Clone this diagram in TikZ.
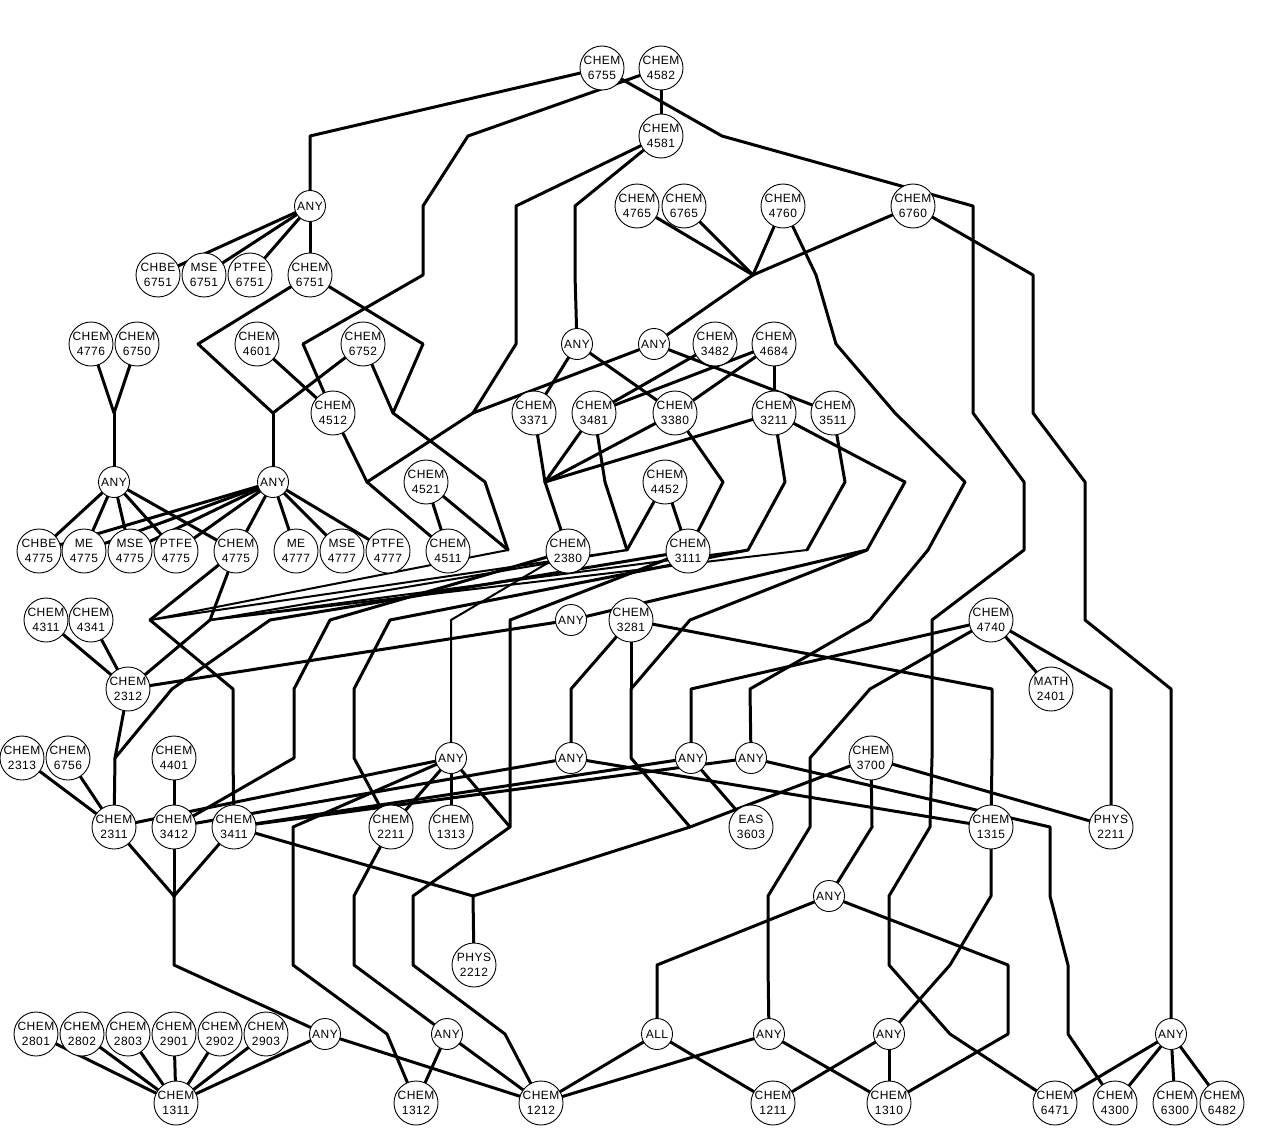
\documentclass[tikz,border=0pt]{standalone}
\usepackage{fontspec}
\newfontfamily\lab[LetterSpace=4]{Liberation Sans}
\usetikzlibrary{backgrounds}
\pgfdeclarelayer{edges}
\pgfsetlayers{background,edges,main}
\begin{document}
\begin{tikzpicture}[x=1pt,y=-1pt,
  cn/.style={circle, draw, line width=0.9pt, fill=white, minimum size=44pt, inner sep=-6pt, align=center, font=\lab\fontsize{12}{14.5}\selectfont},
  an/.style={circle, draw, line width=0.9pt, fill=white, minimum size=31pt, inner sep=-6pt, font=\lab\fontsize{12}{14.5}\selectfont},
  ed/.style={line width=3pt, line join=round, line cap=round},
  th/.style={line width=2pt, line join=round, line cap=round}]
\begin{pgfonlayer}{background}
\fill[white] (0,0) rectangle (1263,1145);
\end{pgfonlayer}
\useasboundingbox (0,0) rectangle (1263,1145);
% ---- nodes ----
\node[cn] (c6755) at (602,68) {CHEM\\6755};
\node[cn] (c4582) at (661,68) {CHEM\\4582};
\node[cn] (c4581) at (661,136) {CHEM\\4581};
\node[an] (a1) at (310,206) {ANY};
\node[cn] (c4765) at (637,206) {CHEM\\4765};
\node[cn] (c6765) at (684,206) {CHEM\\6765};
\node[cn] (c4760) at (783,206) {CHEM\\4760};
\node[cn] (c6760) at (913,206) {CHEM\\6760};
\node[cn] (chbe6751) at (158,275) {CHBE\\6751};
\node[cn] (mse6751) at (204,275) {MSE\\6751};
\node[cn] (ptfe6751) at (250,275) {PTFE\\6751};
\node[cn] (c6751) at (310,275) {CHEM\\6751};
\node[cn] (c4776) at (91,344) {CHEM\\4776};
\node[cn] (c6750) at (137,344) {CHEM\\6750};
\node[cn] (c4601) at (257,344) {CHEM\\4601};
\node[cn] (c6752) at (363,344) {CHEM\\6752};
\node[an] (a2) at (577,344) {ANY};
\node[an] (a3) at (654,344) {ANY};
\node[cn] (c3482) at (715,344) {CHEM\\3482};
\node[cn] (c4684) at (774,344) {CHEM\\4684};
\node[cn] (c4512) at (333,413) {CHEM\\4512};
\node[cn] (c3371) at (534,413) {CHEM\\3371};
\node[cn] (c3481) at (594,413) {CHEM\\3481};
\node[cn] (c3380) at (675,413) {CHEM\\3380};
\node[cn] (c3211) at (774,413) {CHEM\\3211};
\node[cn] (c3511) at (833,413) {CHEM\\3511};
\node[an] (a4) at (114,482) {ANY};
\node[an] (a5) at (273,482) {ANY};
\node[cn] (c4521) at (426,482) {CHEM\\4521};
\node[cn] (c4452) at (665,482) {CHEM\\4452};
\node[cn] (chbe4775) at (39,551) {CHBE\\4775};
\node[cn] (me4775) at (84,551) {ME\\4775};
\node[cn] (mse4775) at (130,551) {MSE\\4775};
\node[cn] (ptfe4775) at (176,551) {PTFE\\4775};
\node[cn] (c4775) at (236,551) {CHEM\\4775};
\node[cn] (me4777) at (296,551) {ME\\4777};
\node[cn] (mse4777) at (342,551) {MSE\\4777};
\node[cn] (ptfe4777) at (388,551) {PTFE\\4777};
\node[cn] (c4511) at (448,551) {CHEM\\4511};
\node[cn] (c2380) at (568,551) {CHEM\\2380};
\node[cn] (c3111) at (688,551) {CHEM\\3111};
\node[cn] (c4311) at (46,620) {CHEM\\4311};
\node[cn] (c4341) at (91,620) {CHEM\\4341};
\node[an] (a6) at (571,620) {ANY};
\node[cn] (c3281) at (631,620) {CHEM\\3281};
\node[cn] (c4740) at (991,620) {CHEM\\4740};
\node[cn] (c2312) at (128,689) {CHEM\\2312};
\node[cn] (math2401) at (1051,689) {MATH\\2401};
\node[cn] (c2313) at (22,758) {CHEM\\2313};
\node[cn] (c6756) at (68,758) {CHEM\\6756};
\node[cn] (c4401) at (174,758) {CHEM\\4401};
\node[an] (a7) at (451,758) {ANY};
\node[an] (a8) at (571,758) {ANY};
\node[an] (a9) at (691,758) {ANY};
\node[an] (a10) at (751,758) {ANY};
\node[cn] (c3700) at (871,758) {CHEM\\3700};
\node[cn] (c2311) at (114,827) {CHEM\\2311};
\node[cn] (c3412) at (174,827) {CHEM\\3412};
\node[cn] (c3411) at (234,827) {CHEM\\3411};
\node[cn] (c2211) at (391,827) {CHEM\\2211};
\node[cn] (c1313) at (451,827) {CHEM\\1313};
\node[cn] (eas3603) at (751,827) {EAS\\3603};
\node[cn] (c1315) at (991,827) {CHEM\\1315};
\node[cn] (phys2211) at (1111,827) {PHYS\\2211};
\node[an] (a11) at (829,896) {ANY};
\node[cn] (phys2212) at (474,965) {PHYS\\2212};
\node[cn] (c2801) at (36,1034) {CHEM\\2801};
\node[cn] (c2802) at (82,1034) {CHEM\\2802};
\node[cn] (c2803) at (128,1034) {CHEM\\2803};
\node[cn] (c2901) at (174,1034) {CHEM\\2901};
\node[cn] (c2902) at (220,1034) {CHEM\\2902};
\node[cn] (c2903) at (266,1034) {CHEM\\2903};
\node[an] (a12) at (325,1034) {ANY};
\node[an] (a13) at (447,1034) {ANY};
\node[an] (all) at (657,1034) {ALL};
\node[an] (a14) at (769,1034) {ANY};
\node[an] (a15) at (889,1034) {ANY};
\node[an] (a16) at (1171,1034) {ANY};
\node[cn] (c1311) at (176,1103) {CHEM\\1311};
\node[cn] (c1312) at (416,1103) {CHEM\\1312};
\node[cn] (c1212) at (541,1103) {CHEM\\1212};
\node[cn] (c1211) at (773,1103) {CHEM\\1211};
\node[cn] (c1310) at (889,1103) {CHEM\\1310};
\node[cn] (c6471) at (1055,1103) {CHEM\\6471};
\node[cn] (c4300) at (1115,1103) {CHEM\\4300};
\node[cn] (c6300) at (1175,1103) {CHEM\\6300};
\node[cn] (c6482) at (1222,1103) {CHEM\\6482};
% ---- junctions ----
\coordinate (j1) at (753,275);
\coordinate (j2) at (114,413);
\coordinate (j3) at (273,413);
\coordinate (j4) at (393,413);
\coordinate (j5) at (473,413);
\coordinate (j6) at (367,482);
\coordinate (j7) at (545,482);
\coordinate (j8) at (508,550);
\coordinate (j9) at (627,550);
\coordinate (j10) at (867,550);
\coordinate (j11) at (150,620);
\coordinate (j12) at (210,620);
\coordinate (j13) at (631,689);
\coordinate (j14) at (690,827);
\coordinate (j15) at (473,896);
\coordinate (j16) at (115,758);
\coordinate (j17) at (510,827);
\coordinate (j18) at (174,896);
\coordinate (j19) at (748,550);
\coordinate (j20) at (807,550);
% ---- edges ----
\begin{pgfonlayer}{edges}
\draw[ed] (c6755) -- (310,136) -- (a1);
\draw[ed] (c6755) -- (722,136) -- (973,206) -- (973,275) -- (973,344) -- (973,413) -- (1024,482) -- (1024,550) -- (932,620) -- (932,689) -- (932,758) -- (930,827) -- (889,896) -- (889,965) -- (950,1034) -- (c6471);
\draw[ed] (c4582) -- (c4581);
\draw[ed] (c4582) -- (468,136) -- (423,206) -- (423,275) -- (303,344) -- (c4512);
\draw[ed] (c4581) -- (516,206) -- (516,275) -- (516,344) -- (j5);
\draw[ed] (c4581) -- (575,206) -- (575,275) -- (a2);
\foreach \t in {chbe6751,mse6751,ptfe6751,c6751} \draw[ed] (a1) -- (\t);
\foreach \s in {c4765,c6765,c4760,c6760} \draw[ed] (\s) -- (j1);
\draw[ed] (j1) -- (a3);
\draw[ed] (c4760) -- (816,275) -- (836,344) -- (895,413) -- (965,482) -- (928,550) -- (870,620) -- (750,689) -- (a10);
\draw[ed] (c6760) -- (1033,275) -- (1033,344) -- (1033,413) -- (1085,482) -- (1085,550) -- (1085,620) -- (1171,689) -- (1171,758) -- (1171,827) -- (1171,896) -- (1171,965) -- (a16);
\draw[ed] (c6751) -- (198,344) -- (j3);
\draw[ed] (c6752) -- (j3);
\draw[ed] (j3) -- (a5);
\draw[ed] (c6751) -- (423,344) -- (j4);
\draw[ed] (c6752) -- (j4);
\draw[ed] (j4) -- (485,482) -- (j8);
\draw[ed] (c4776) -- (j2);
\draw[ed] (c6750) -- (j2);
\draw[ed] (j2) -- (a4);
\draw[ed] (c4601) -- (c4512);
\draw[ed] (a3) -- (j5);
\draw[ed] (j5) -- (j6);
\draw[ed] (c4512) -- (j6);
\draw[ed] (j6) -- (c4511);
\draw[ed] (a2) -- (c3371);
\draw[ed] (a2) -- (c3380);
\draw[ed] (a3) -- (c3511);
\draw[ed] (c3482) -- (c3481);
\draw[ed] (c4684) -- (c3481);
\draw[ed] (c4684) -- (c3380);
\draw[ed] (c4684) -- (c3211);
\foreach \s in {c3371,c3481,c3380,c3211} \draw[ed] (\s) -- (j7);
\draw[ed] (j7) -- (c2380);
\draw[ed] (c3481) -- (605,482) -- (j9);
\draw[ed] (c4452) -- (j9);
\draw[ed] (c4452) -- (c3111);
\draw[ed] (c3380) -- (723,482) -- (c3111);
\draw[ed] (c3211) -- (785,482) -- (j19);
\draw[ed] (c3511) -- (845,482) -- (j20);
\draw[ed] (c3211) -- (905,482) -- (j10);
\draw[ed] (j10) -- (a6);
\draw[ed] (j10) -- (690,620) -- (j13);
\draw[ed] (c4521) -- (c4511);
\draw[ed] (c4521) -- (j8);
\foreach \t in {chbe4775,me4775,mse4775,ptfe4775,c4775} \draw[ed] (a4) -- (\t);
\foreach \t in {chbe4775,me4775,mse4775,ptfe4775,c4775,me4777,mse4777,ptfe4777} \draw[ed] (a5) -- (\t);
\draw[ed] (c4775) -- (j11);
\draw[ed] (c4775) -- (j12);
\draw[th] (j8) -- (j11);
\draw[th] (j9) -- (j11);
\draw[th] (j9) -- (j12);
\draw[th] (j19) -- (j12);
\draw[th] (j20) -- (j12);
\draw[ed] (j11) -- (233,689) -- (233,758) -- (c3411);
\draw[ed] (j12) -- (c2312);
\draw[ed] (c3111) -- (270,620) -- (172,689) -- (j16);
\draw[ed] (c2312) -- (j16);
\draw[ed] (j16) -- (c2311);
\draw[ed] (c2380) -- (330,620) -- (294,689) -- (294,758) -- (c3412);
\draw[ed] (j19) -- (390,620) -- (354,689) -- (354,758) -- (c2211);
\draw[th] (c2380) -- (451,620) -- (451,689) -- (a7);
\draw[ed] (c3111) -- (510,620) -- (510,689) -- (510,758) -- (j17);
\draw[ed] (a6) -- (c2312);
\draw[ed] (c4311) -- (c2312);
\draw[ed] (c4341) -- (c2312);
\draw[ed] (c3281) -- (571,689) -- (a8);
\draw[ed] (c3281) -- (j13);
\draw[ed] (j13) -- (631,758) -- (j14);
\draw[ed] (c3700) -- (j14);
\draw[ed] (j14) -- (j15);
\draw[ed] (c3411) -- (j15);
\draw[ed] (j15) -- (phys2212);
\draw[ed] (c4740) -- (691,689) -- (a9);
\draw[ed] (c4740) -- (870,689) -- (810,758) -- (810,827) -- (768,896) -- (768,965) -- (a14);
\draw[ed] (c3281) -- (992,689) -- (992,758) -- (c1315);
\draw[ed] (c4740) -- (math2401);
\draw[ed] (c4740) -- (1111,689) -- (1111,758) -- (phys2211);
\draw[ed] (c2313) -- (c2311);
\draw[ed] (c6756) -- (c2311);
\draw[ed] (c4401) -- (c3412);
\draw[ed] (a7) -- (c2211);
\draw[ed] (a7) -- (c1313);
\draw[ed] (a7) -- (j17);
\draw[ed] (a7) -- (293,827) -- (293,896) -- (293,965) -- (387,1034) -- (c1312);
\draw[ed] (j17) -- (413,896) -- (413,965) -- (505,1034) -- (c1212);
\draw[ed] (c2211) -- (354,896) -- (354,965) -- (a13);
\draw[ed] (a9) -- (eas3603);
\draw[ed] (c3700) -- (872,827) -- (a11);
\draw[ed] (c3700) -- (phys2211);
\draw[ed] (a8) -- (c1315);
\draw[ed] (a10) -- (1050,827) -- (1050,896) -- (1068,965) -- (1068,1034) -- (c4300);
\draw[ed] (c2311) -- (a7);
\draw[ed] (c3412) -- (a8);
\draw[ed] (c3411) -- (a9);
\draw[ed] (c3411) -- (a10);
\draw[ed] (c2311) -- (j18);
\draw[ed] (c3412) -- (j18);
\draw[ed] (c3411) -- (j18);
\draw[ed] (j18) -- (174,965) -- (a12);
\draw[ed] (c1315) -- (991,896) -- (950,965) -- (a15);
\draw[ed] (a11) -- (657,965) -- (all);
\draw[ed] (a11) -- (1008,965) -- (1008,1034) -- (c1310);
\foreach \s in {c2801,c2802,c2803,c2901,c2902,c2903} \draw[ed] (\s) -- (c1311);
\draw[ed] (a12) -- (c1311);
\draw[ed] (a12) -- (c1212);
\draw[ed] (a13) -- (c1312);
\draw[ed] (a13) -- (c1212);
\draw[ed] (all) -- (c1212);
\draw[ed] (all) -- (c1211);
\draw[ed] (a14) -- (c1212);
\draw[ed] (a14) -- (c1310);
\draw[ed] (a15) -- (c1211);
\draw[ed] (a15) -- (c1310);
\foreach \t in {c6471,c4300,c6300,c6482} \draw[ed] (a16) -- (\t);
\end{pgfonlayer}
\end{tikzpicture}
\end{document}
